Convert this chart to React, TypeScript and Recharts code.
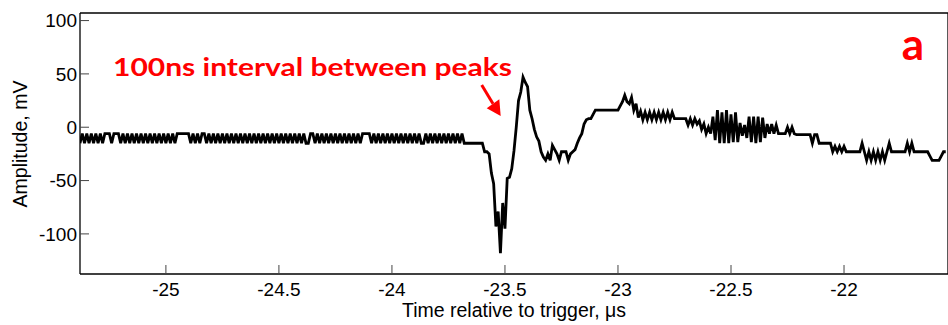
import { LineChart, Line, XAxis, YAxis } from 'recharts';

// scope sample clock
const T0 = -25.38; // µs, time of first sample
const DT = 0.01; // µs between samples

// amplitude in mV, one value per sample
const quietTrace = [
  -15, -6, -15, -6, -15, -6, -15, -6, -15, -6, -15, -6, -6, -6, -15, -6, -6, -6,
  -15, -6, -15, -6, -15, -6, -15, -6, -15, -6, -15, -6,
  -15, -6, -15, -6, -15, -6, -15, -6, -15, -6, -15, -6,
  -15, -6, -6, -6, -6, -6, -6, -15, -6, -15, -6, -15, -6, -6,
  -15, -6, -15, -6, -15, -6, -15, -6, -15, -6, -15, -6,
  -15, -6, -15, -6, -15, -6, -15, -6, -15, -6, -15, -6,
  -15, -6, -15, -6, -15, -6, -15, -6, -15, -6, -15, -6,
  -15, -6, -15, -6, -15, -6, -15, -6,
  -15, -15, -6, -6,
  -15, -6, -15, -6, -15, -6, -15, -6, -15, -6,
  -15, -6, -15, -6, -15, -6, -15, -6, -15, -6, -15,
  -6, -6, -6, -6,
  -15, -6, -15, -6, -15, -6, -15, -6, -15, -6, -15,
  -6, -15, -6, -15, -6, -15, -6, -15, -6, -15, -6,
  -15, -15, -6,
  -15, -6, -15, -6, -15, -6, -15, -6, -15, -6, -15, -6, -15, -6, -15, -6,
  -15, -15, -15, -15, -15, -15, -15, -15,
];

const pulseTrace = [
  -15, -23, -23, -25, -43, -53, -93, -79, -118, -71, -95, -48, -47, -39, -22, 0,
  25, 33, 47, 42, 38, 16, 8, -2, -9, -13, -23, -28, -31, -25, -31, -17, -21, -25,
  -31, -23, -23, -23, -31, -25, -23, -21, -15, -10, -6, 3, 7, 8, 8, 12, 16,
  16, 16, 16, 16, 16, 16, 16, 16, 16,
];

const recoveryTrace = [
  16, 20, 24, 30, 24, 22, 28, 16, 22, 9, 15, 7, 14, 7, 14, 7, 14, 7, 14, 7, 14, 7,
  14, 7, 14, 8, 8, 8, 8, 8, 8, 2, 8, 2, 8, 3, 6, -2, 3, -6, 0, -6,
  10, -12, 16, -15, 14, -15, 16, -15, 12, -14, 14, -14, 4, -8, 2, -10,
  10, -14, 10, -15, 10, -14, 9, -10, 3, -6, 3, -6, 2, -6,
];

const tailTrace = [
  -6, -6, -6, 0, -6, 0, -6, -7, -7, -7, -7, -7, -7, -7, -15, -7, -7,
  -15, -15, -15, -15, -15, -15, -23, -18, -23, -18, -23, -18, -23,
  -23, -23, -23, -23, -23, -23, -15, -23, -31, -23, -31, -23, -31, -23, -31,
  -23, -31, -23, -15, -23, -23, -23, -23, -23, -23, -23, -15, -23, -15, -23,
  -23, -23, -23, -23, -23, -23, -27, -31, -31, -31, -31, -27, -23, -23,
];

const timeTicks = [-25, -24.5, -24, -23.5, -23, -22.5, -22];
const ampTicks = [-100, -50, 0, 50, 100];

const samples = [...quietTrace, ...pulseTrace, ...recoveryTrace, ...tailTrace];
const data = samples.map((mv, i) => ({ t: +(T0 + i * DT).toFixed(3), mv }));

const X_DOMAIN: [number, number] = [-25.38, -21.54];
const Y_DOMAIN: [number, number] = [-137.6, 107.1];

const FONT = '"Liberation Sans", Arial, sans-serif';
const tickStyle = { fontSize: 19, fill: '#000', fontFamily: FONT };
const axisLine = { stroke: '#000', strokeWidth: 1.3 };
const tickLine = { stroke: '#444', strokeWidth: 1 };

export default function App() {
  return (
    <div
      style={{
        position: 'absolute',
        left: 0,
        top: 0,
        width: 948,
        height: 325,
        overflow: 'hidden',
        background: '#fff',
      }}
    >
      <LineChart width={950} height={325} data={data} margin={{ top: 0, right: 0, bottom: 0, left: 0 }}>
        <XAxis
          xAxisId="bottom"
          type="number"
          dataKey="t"
          domain={X_DOMAIN}
          ticks={timeTicks}
          allowDataOverflow
          height={51}
          tickSize={-9}
          tickMargin={18}
          tick={tickStyle}
          axisLine={axisLine}
          tickLine={tickLine}
          tickFormatter={(v: number) => String(v)}
          label={{
            content: () => (
              <text x={514} y={316.7} textAnchor="middle" fontSize={19.5} fontFamily={FONT} fill="#000">
                Time relative to trigger, μs
              </text>
            ),
          }}
        />
        <XAxis
          xAxisId="top"
          orientation="top"
          type="number"
          dataKey="t"
          domain={X_DOMAIN}
          ticks={timeTicks}
          allowDataOverflow
          height={13}
          tickSize={-9}
          tick={false}
          axisLine={axisLine}
          tickLine={tickLine}
        />
        <YAxis
          yAxisId="left"
          type="number"
          domain={Y_DOMAIN}
          ticks={ampTicks}
          allowDataOverflow
          width={80}
          tickSize={-9}
          tickMargin={12}
          tick={tickStyle}
          axisLine={axisLine}
          tickLine={tickLine}
          label={{
            content: () => (
              <text
                transform="translate(27 144) rotate(-90)"
                textAnchor="middle"
                fontSize={19.5}
                fontFamily={FONT}
                fill="#000"
              >
                Amplitude, mV
              </text>
            ),
          }}
        />
        <YAxis
          yAxisId="right"
          orientation="right"
          type="number"
          domain={Y_DOMAIN}
          ticks={ampTicks}
          allowDataOverflow
          width={2}
          tickSize={-9}
          tick={false}
          axisLine={axisLine}
          tickLine={tickLine}
        />
        <Line
          xAxisId="bottom"
          yAxisId="left"
          type="linear"
          dataKey="mv"
          stroke="#000"
          strokeWidth={2.8}
          dot={false}
          activeDot={false}
          isAnimationActive={false}
        />
      </LineChart>
      <svg
        width={948}
        height={325}
        style={{ position: 'absolute', left: 0, top: 0, pointerEvents: 'none' }}
      >
        <text
          x={113}
          y={76}
          fill="#ff0000"
          fontFamily="Lato, 'Open Sans', sans-serif"
          fontWeight={700}
          fontSize={25}
          textLength={399}
          lengthAdjust="spacingAndGlyphs"
        >
          100ns interval between peaks
        </text>
        <line x1={481.7} y1={85} x2={493} y2={103.8} stroke="#ff0000" strokeWidth={3} />
        <polygon points="486.7,108.3 499.3,99.3 500.7,116" fill="#ff0000" />
        <text
          x={913}
          y={60}
          textAnchor="middle"
          fill="#ff0000"
          fontFamily="Lato, 'Open Sans', sans-serif"
          fontWeight={700}
          fontSize={44}
        >
          a
        </text>
      </svg>
    </div>
  );
}
